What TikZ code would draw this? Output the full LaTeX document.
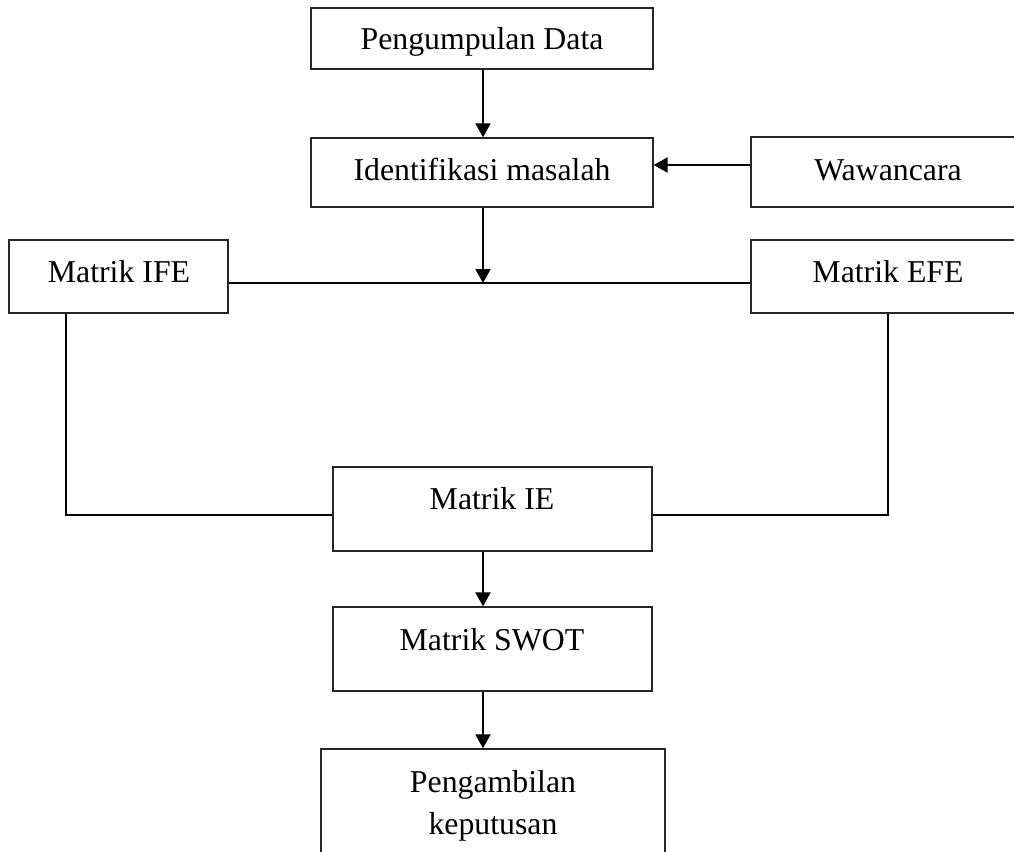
\documentclass[tikz,border=0pt]{standalone}
\usepackage{fontspec}
\setmainfont{Liberation Serif}
\usetikzlibrary{arrows.meta}
\begin{document}
\begin{tikzpicture}[x=1pt,y=-1pt,
  box/.style={draw=black!85, line width=1.3pt, inner sep=0pt, rectangle},
  txt/.style={inner sep=0pt, anchor=base, font=\fontsize{31.8}{42}\selectfont},
  conn/.style={draw=black, line width=2pt},
  arr/.style={conn, -{Triangle[width=15pt,length=14pt]}}]
\useasboundingbox (0,0) rectangle (1014,851);
% boxes
\node[box, minimum width=342pt, minimum height=61pt] (pd) at (482,38.5) {};
\node[box, minimum width=342pt, minimum height=69pt] (im) at (482,172.5) {};
\node[box, minimum width=270pt, minimum height=70pt] (ww) at (886,172) {};
\node[box, minimum width=219pt, minimum height=73pt] (ife) at (118.5,276.5) {};
\node[box, minimum width=270pt, minimum height=73pt] (efe) at (886,276.5) {};
\node[box, minimum width=319pt, minimum height=84pt] (ie) at (492.5,509) {};
\node[box, minimum width=319pt, minimum height=84pt] (swot) at (492.5,649) {};
\node[box, minimum width=344pt, minimum height=122pt] (pk) at (493,810) {};
% texts
\node[txt] (pdT) at (482,50) {Pengumpulan Data};
\node[txt] (imT) at (482,180) {Identifikasi masalah};
\node[txt] (wwT) at (888,180) {Wawancara};
\node[txt] (ifeT) at (119,282) {Matrik IFE};
\node[txt] (efeT) at (888,282) {Matrik EFE};
\node[txt] (ieT) at (492,509) {Matrik IE};
\node[txt] (swotT) at (492,650) {Matrik SWOT};
\node[txt] (pkT1) at (493,792) {Pengambilan};
\node[txt] (pkT2) at (493,834) {keputusan};
% helper coordinates
\coordinate (col) at (483,0);
\coordinate (wy) at (0,165);
\coordinate (hl) at (0,283);
\coordinate (lx) at (66,0);
\coordinate (rx) at (888,0);
\coordinate (by) at (0,515);
% connectors
\draw[arr] (pd.south -| col) -- (im.north -| col);
\draw[arr] (ww.west |- wy) -- (im.east |- wy);
\draw[conn] (ife.east |- hl) -- (efe.west |- hl);
\draw[arr] (im.south -| col) -- (col |- hl);
\draw[conn] (ife.south -| lx) |- (ie.west |- by);
\draw[conn] (efe.south -| rx) |- (ie.east |- by);
\draw[arr] (ie.south -| col) -- (swot.north -| col);
\draw[arr] (swot.south -| col) -- (pk.north -| col);
\end{tikzpicture}
\end{document}
